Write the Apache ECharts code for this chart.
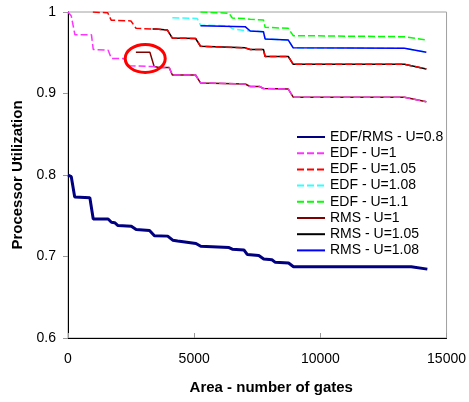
<!DOCTYPE html>
<html><head><meta charset="utf-8">
<script src="https://cdn.jsdelivr.net/npm/echarts@6/dist/echarts.min.js"></script>
<style>html,body{margin:0;padding:0;background:#fff}#c{width:469px;height:402px}</style>
</head><body><div id="c"></div>
<script>
// ---- data ----
const seriesNames = ['EDF/RMS - U=0.8','EDF - U=1','EDF - U=1.05','EDF - U=1.08','EDF - U=1.1','RMS - U=1','RMS - U=1.05','RMS - U=1.08'];
const xTicks = [0, 5000, 10000, 15000];
const yTicks = [0.6, 0.7, 0.8, 0.9, 1];

const x_u08 = [0,130,265,866,1000,1590,1720,1850,1980,2510,2700,3230,3425,3950,4150,4345,4410,5070,5260,6380,6510,6970,7100,7560,7755,8080,8215,8740,8935,13600,14240];
const y_u08 = [0.800,0.798,0.773,0.772,0.746,0.746,0.742,0.7415,0.738,0.737,0.733,0.732,0.7255,0.725,0.720,0.719,0.7174,0.716,0.7125,0.711,0.709,0.708,0.7025,0.7012,0.697,0.696,0.6928,0.692,0.6875,0.6875,0.6845];

const x_edf1 = [0,130,275,930,1000,1590,1720,2200,2440,3400,3610,4010,4135,5055,5250,7020,7220,7590,7745,8730,8925,13335,14200];
const y_edf1 = [1.0,0.995,0.972,0.972,0.954,0.953,0.943,0.943,0.934,0.933,0.932,0.932,0.9227,0.9227,0.913,0.9117,0.9086,0.9086,0.9061,0.9055,0.8955,0.8953,0.890];

const x_edf105 = [985,1575,1710,2495,2695,3480,3935,4135,5055,5250,7020,7220,7745,7810,8730,8925,13335,14200];
const y_edf105 = [1.0,0.999,0.990,0.989,0.980,0.979,0.978,0.968,0.9675,0.958,0.956,0.954,0.954,0.9454,0.9454,0.9358,0.9358,0.930];

const x_edf108 = [4135,5120,5250,6380,6510,7020,7220,7745,7810,8730,8925,13335,14200];
const y_edf108 = [0.993,0.992,0.984,0.983,0.9795,0.977,0.9767,0.9758,0.967,0.9656,0.956,0.9555,0.9506];

const x_edf11 = [5250,6380,6510,7020,7220,7745,7810,8730,8925,13335,14200];
const y_edf11 = [1.0,0.9985,0.9926,0.992,0.991,0.9902,0.9812,0.980,0.971,0.9697,0.9656];

const x_rms1 = [2690,3245,3415,3610,4010,4135,5055,5250,7020,7220,7590,7745,8730,8925,13335,14200];
const y_rms1 = [0.9506,0.9506,0.933,0.932,0.932,0.9227,0.9227,0.913,0.9117,0.9086,0.9086,0.9061,0.9055,0.8955,0.8953,0.890];

const x_rms105 = [3350,3480,3935,4135,5055,5250,7020,7220,7745,7810,8730,8925,13335,14200];
const y_rms105 = [0.979,0.979,0.978,0.968,0.9675,0.958,0.956,0.954,0.954,0.9454,0.9454,0.9358,0.9358,0.930];

const x_rms108 = [5250,7020,7220,7745,7810,8730,8925,13335,14200];
const y_rms108 = [0.983,0.982,0.9767,0.9758,0.967,0.9656,0.956,0.9555,0.9506];

// annotation circle centre (data coords)
const markX = 3060, markY = 0.943;

// ---- chart ----
const zip = (xs, ys) => xs.map((x, i) => [x, ys[i]]);
const FONT = "'Liberation Sans', Arial, sans-serif";
const dash = [7, 3];
const defs = [
  {d: zip(x_u08, y_u08), c: '#000080', w: 3, t: 'solid', z: 2},
  {d: zip(x_edf1, y_edf1), c: '#ff33ff', w: 1.5, t: dash, z: 3},
  {d: zip(x_edf105, y_edf105), c: '#ff0000', w: 1.5, t: dash, z: 3},
  {d: zip(x_edf108, y_edf108), c: '#33ffff', w: 1.5, t: dash, z: 2},
  {d: zip(x_edf11, y_edf11), c: '#00ff00', w: 1.5, t: dash, z: 2},
  {d: zip(x_rms1, y_rms1), c: '#800000', w: 1.5, t: 'solid', z: 2},
  {d: zip(x_rms105, y_rms105), c: '#000000', w: 1.5, t: 'solid', z: 2},
  {d: zip(x_rms108, y_rms108), c: '#0000ff', w: 1.5, t: 'solid', z: 4}
];

const chart = echarts.init(document.getElementById('c'), null, {renderer: 'canvas'});
chart.setOption({
  animation: false,
  backgroundColor: '#fff',
  textStyle: {fontFamily: FONT},
  grid: {left: 68, right: 21, top: 12, bottom: 64, show: true, borderColor: '#a0a0a0', borderWidth: 1, backgroundColor: 'transparent'},
  legend: {
    data: seriesNames, orient: 'vertical', left: 291, top: 125,
    itemWidth: 28, itemHeight: 14, itemGap: 2.2,
    itemStyle: {opacity: 0},
    textStyle: {fontFamily: FONT, fontSize: 14, color: '#000', lineHeight: 14}
  },
  xAxis: {
    type: 'value', min: xTicks[0], max: xTicks[xTicks.length - 1], interval: 5000,
    name: 'Area - number of gates', nameLocation: 'middle', nameGap: 42,
    nameTextStyle: {fontFamily: FONT, fontSize: 15, fontWeight: 'bold', color: '#000', padding: [0, 0, 0, 28]},
    axisLine: {lineStyle: {color: '#000', width: 1}},
    axisTick: {inside: true, length: 5, lineStyle: {color: '#999'}},
    axisLabel: {fontFamily: FONT, fontSize: 14, color: '#000', margin: 14, formatter: v => String(v)},
    splitLine: {show: false}
  },
  yAxis: {
    type: 'value', min: yTicks[0], max: yTicks[yTicks.length - 1], interval: 0.1,
    name: 'Processor Utilization', nameLocation: 'middle', nameGap: 36,
    nameTextStyle: {fontFamily: FONT, fontSize: 15, fontWeight: 'bold', color: '#000'},
    axisLine: {show: true, lineStyle: {color: '#000', width: 1}},
    axisTick: {show: true, length: 5, lineStyle: {color: '#999'}},
    axisLabel: {fontFamily: FONT, fontSize: 14, color: '#000', margin: 12,
      formatter: v => (Math.round(v * 10) / 10).toString()},
    splitLine: {show: false}
  },
  series: defs.map((s, i) => ({
    name: seriesNames[i], type: 'line', data: s.d, symbol: 'none', showSymbol: false,
    z: s.z, color: s.c,
    lineStyle: {color: s.c, width: s.w, type: s.t}
  }))
});

const p = chart.convertToPixel({gridIndex: 0}, [markX, markY]);
chart.setOption({
  graphic: [{
    type: 'ellipse', z: 100,
    shape: {cx: p[0], cy: p[1], rx: 20, ry: 14},
    style: {fill: 'none', stroke: '#ff0000', lineWidth: 3}
  }]
});
</script>
</body></html>
